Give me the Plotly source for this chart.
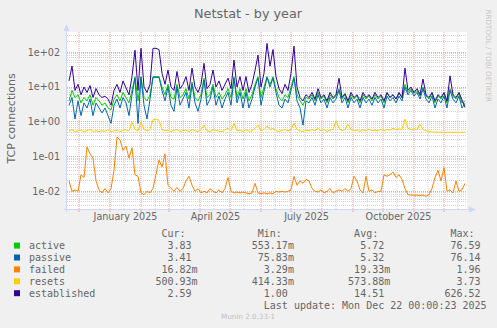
import pandas as pd
import plotly.graph_objects as go

# ---- data (one sample every 3 days, 2024-11-21 .. 2025-12-22) ----
dates = pd.date_range("2024-11-21", periods=133, freq="3D")

established = [
    15, 40, 8, 12, 6, 10, 7, 11, 5, 9, 6, 5, 5.5, 4.5, 3, 8, 12, 7, 15, 9,
    6, 20, 115, 8, 130, 10, 7, 12, 130, 130, 120, 25, 12, 31, 10, 8, 28, 9, 12, 20,
    8, 35, 10, 7, 12, 48, 9, 12, 31, 10, 15, 8, 12, 18, 9, 60, 10, 20, 8, 20,
    7, 12, 30, 83, 10, 25, 180, 40, 120, 20, 9, 6.5, 12, 8, 25, 150, 10, 5, 4, 6,
    5, 7, 4.5, 9, 5, 6, 4, 7, 5, 6, 18, 5, 6.5, 4, 7, 5, 6, 4, 7, 5,
    6, 4.5, 7, 5, 6, 4, 7, 5, 6, 4.5, 7, 5, 35, 8, 10, 7, 9, 6, 17, 6,
    5, 7, 4, 6, 5, 7, 4, 21, 6, 5, 7, 4, 2.59,
]

active = [
    4, 8, 5, 6, 3.5, 5, 4, 6, 3, 5, 4, 3, 3.5, 2.5, 2.2, 4.5, 6, 4, 7, 5,
    3.5, 8, 20, 4, 20, 5, 4, 6, 20, 20, 20, 10, 6, 12, 5, 4.5, 12, 5, 6, 9,
    4.5, 14, 5, 4, 6, 18, 5, 6, 12, 5, 7, 4.5, 6, 9, 5, 20, 5, 9, 4.5, 9,
    4, 6, 12, 20, 5, 10, 20, 12, 20, 9, 5, 4, 6, 5, 10, 20, 6, 4, 3, 5,
    4.5, 6, 4, 7, 4.5, 5.5, 3.5, 6, 4.5, 5.5, 9, 4.5, 6, 3.5, 6, 4.5, 5.5, 3.5, 6, 4.5,
    5.5, 4, 6, 4.5, 5.5, 3.5, 6.5, 5, 6, 4.5, 6.5, 5, 12, 7, 9, 6.5, 8, 5.5, 10, 5.5,
    4.5, 6.5, 3.5, 5.5, 4.5, 6.5, 3.5, 9, 5.5, 4.5, 6.5, 3.5, 3.83,
]

passive = [
    3, 5, 1.2, 4, 1.5, 3.5, 2.5, 4.5, 1.5, 3.5, 2.5, 1.8, 2.5, 1.4, 0.9, 3, 4.5, 2.5, 5, 3.5,
    1.5, 6, 18, 0.9, 19, 3, 1.2, 4.5, 19, 19, 19, 8, 4, 10, 3, 2, 10, 3, 4.5, 7,
    2.5, 12, 3.5, 2, 4.5, 16, 3, 4.5, 10, 3, 5.5, 2.5, 4.5, 7, 3, 18, 3.5, 7, 2.5, 7,
    2.5, 4.5, 10, 18, 3, 8, 19, 10, 18, 7, 3, 2.5, 4.5, 3.5, 8, 18, 4, 2.5, 0.8, 4,
    3.5, 5, 3, 6, 3.5, 4.5, 2.5, 5, 3.5, 4.5, 8, 3.5, 5, 2.5, 5, 3.5, 4.5, 2.5, 5, 3.5,
    4.5, 3, 5, 3.5, 4.5, 2.5, 5.5, 4, 5, 3.5, 5.5, 4, 10, 6, 8, 5.5, 7, 4.5, 9, 4.5,
    3.5, 5.5, 2.5, 4.5, 3.5, 5.5, 2.5, 8, 4.5, 3.5, 5.5, 2.5, 3.41,
]

failed = [
    0.02, 0.01, 0.011, 0.01, 0.03, 0.025, 0.19, 0.12, 0.09, 0.02,
    0.011, 0.009, 0.012, 0.009, 0.012, 0.04, 0.36, 0.3, 0.15, 0.2,
    0.09, 0.18, 0.03, 0.027, 0.009, 0.008, 0.01, 0.009, 0.012, 0.035,
    0.08, 0.05, 0.12, 0.015, 0.012, 0.01, 0.013, 0.01, 0.012, 0.02,
    0.027, 0.015, 0.01, 0.012, 0.009, 0.01, 0.009, 0.012, 0.01, 0.009,
    0.011, 0.009, 0.012, 0.025, 0.01, 0.009, 0.0095, 0.009, 0.0095, 0.009,
    0.0085, 0.009, 0.017, 0.009, 0.0085, 0.009, 0.0085, 0.009, 0.0085, 0.01,
    0.0095, 0.01, 0.0095, 0.01, 0.011, 0.027, 0.015, 0.02, 0.017, 0.022,
    0.02, 0.012, 0.01, 0.0095, 0.011, 0.009, 0.01, 0.012, 0.009, 0.01,
    0.011, 0.01, 0.012, 0.01, 0.012, 0.027, 0.02, 0.011, 0.009, 0.027,
    0.01, 0.011, 0.009, 0.01, 0.01, 0.03, 0.027, 0.03, 0.036, 0.025,
    0.03, 0.022, 0.012, 0.008, 0.0078, 0.0077, 0.0078, 0.0076, 0.0078, 0.0072,
    0.008, 0.012, 0.025, 0.04, 0.02, 0.048, 0.01, 0.011, 0.009, 0.02,
    0.01, 0.011, 0.01682,
]

resets = [
    0.55, 0.6, 0.52, 0.55, 0.58, 0.52, 0.55, 0.6, 0.53, 0.55,
    0.52, 0.55, 0.53, 0.6, 0.52, 0.55, 0.58, 0.52, 0.55, 0.6,
    0.55, 0.97, 0.6, 0.55, 0.97, 0.6, 0.55, 0.6, 1.15, 1.2,
    1.1, 0.6, 0.55, 0.58, 0.52, 0.55, 0.6, 0.53, 0.55, 0.58,
    0.52, 0.6, 0.55, 0.52, 0.58, 0.8, 0.55, 0.52, 0.6, 0.55,
    0.53, 0.52, 0.58, 0.65, 0.55, 0.9, 0.55, 0.58, 0.52, 0.6,
    0.53, 0.55, 0.65, 0.8, 0.55, 0.6, 0.75, 0.6, 0.65, 0.55,
    0.53, 0.55, 0.6, 0.55, 0.6, 0.9, 0.6, 0.55, 0.53, 0.58,
    0.55, 0.6, 0.55, 0.65, 0.55, 0.6, 0.53, 0.58, 0.6, 1.05,
    0.65, 0.55, 0.6, 0.85, 0.6, 0.55, 0.58, 0.53, 0.6, 0.55,
    0.62, 0.55, 0.58, 0.55, 0.6, 0.55, 0.6, 0.58, 0.65, 0.6,
    0.62, 0.6, 1.2, 0.65, 0.6, 0.62, 0.6, 0.85, 0.6, 0.55,
    0.52, 0.51, 0.51, 0.5, 0.51, 0.5, 0.5, 0.51, 0.5, 0.5,
    0.51, 0.5, 0.50093,
]

series_names = ["active", "passive", "failed", "resets", "established"]
series_colors = ["#00CC00", "#0066B3", "#FF8000", "#FFCC00", "#330099"]
series_values = [active, passive, failed, resets, established]

# legend statistics (Cur, Min, Avg, Max) with unit suffix
stat_cur = [("3.83", " "), ("3.41", " "), ("16.82", "m"), ("500.93", "m"), ("2.59", " ")]
stat_min = [("553.17", "m"), ("75.83", "m"), ("3.29", "m"), ("414.33", "m"), ("1.00", " ")]
stat_avg = [("5.72", " "), ("5.32", " "), ("19.33", "m"), ("573.88", "m"), ("14.51", " ")]
stat_max = [("76.59", " "), ("76.14", " "), ("1.96", " "), ("3.73", " "), ("626.52", " ")]

y_ticks = [0.01, 0.1, 1, 10, 100]
y_ticktext = ["1e-02", "1e-01", "1e+00", "1e+01", "1e+02"]
x_ticks = ["2025-01-16 12:00", "2025-04-16 12:00", "2025-07-16 12:00", "2025-10-16 12:00"]
x_ticktext = ["January 2025", "April 2025", "July 2025", "October 2025"]

# ---- geometry (pixels) ----
W, H = 497, 328
L, R, T, B = 67, 467, 32, 209
X_START, X_END = pd.Timestamp("2024-11-19"), pd.Timestamp("2025-12-24")
FONT = "#666666"


def px(x):
    return (x - L) / (R - L)


def py(y):
    return (B - y) / (B - T)


fig = go.Figure()
for name, color, vals in zip(series_names, series_colors, series_values):
    fig.add_trace(go.Scatter(x=dates, y=vals, mode="lines", name=name,
                             line=dict(color=color, width=1), hoverinfo="skip"))

minor_vals = [m * 10.0 ** e for e in range(-3, 3) for m in range(2, 10)]

fig.update_layout(
    width=W, height=H,
    margin=dict(l=L, r=W - R, t=T, b=H - B, pad=0),
    paper_bgcolor="#F0F0F0", plot_bgcolor="#FFFFFF",
    showlegend=False,
    font=dict(family="DejaVu Sans", color=FONT, size=9.6),
)
fig.update_xaxes(
    type="date", range=[X_START, X_END], tickmode="array",
    tickvals=x_ticks, ticktext=x_ticktext, showgrid=False, zeroline=False,
    showline=False, ticks="", tickfont=dict(size=9.6, color=FONT),
)
fig.update_yaxes(
    type="log", range=[-2.509, 2.584], tickmode="array",
    tickvals=y_ticks, ticktext=y_ticktext, showgrid=True,
    gridcolor="#F4A0A0", griddash="1px,1px", gridwidth=1,
    zeroline=False, showline=False, ticks="", ticklabelstandoff=6,
    tickfont=dict(size=9.6, color=FONT),
    minor=dict(tickmode="array", tickvals=minor_vals, showgrid=True,
               gridcolor="#D2D2D2", griddash="1px,1px", gridwidth=1, ticks=""),
)

shapes = []
# vertical grid: month starts (major) and mid-month (minor)
for d in pd.date_range("2024-12-15", "2025-12-15", freq="MS") + pd.Timedelta(days=14):
    shapes.append(dict(type="line", xref="x", yref="paper", x0=d, x1=d, y0=0, y1=1,
                       layer="below", line=dict(color="#D2D2D2", width=1, dash="1px,1px")))
for d in pd.date_range("2024-12-01", "2025-12-01", freq="MS"):
    shapes.append(dict(type="line", xref="x", yref="paper", x0=d, x1=d, y0=0, y1=1,
                       layer="below", line=dict(color="#F4A0A0", width=1, dash="1px,1px")))
    shapes.append(dict(type="line", xref="x", yref="paper", x0=d, x1=d,
                       y0=py(B), y1=py(B + 3), line=dict(color="#F4A0A0", width=1)))

AXIS = "#CFD6F8"
shapes.append(dict(type="line", xref="paper", yref="paper", x0=px(L - 0.5), x1=px(L - 0.5),
                   y0=py(B + 3), y1=py(T - 5), line=dict(color=AXIS, width=1)))
shapes.append(dict(type="line", xref="paper", yref="paper", x0=px(L - 3), x1=px(R + 5),
                   y0=py(B + 0.5), y1=py(B + 0.5), line=dict(color=AXIS, width=1)))
shapes.append(dict(type="path", xref="paper", yref="paper",
                   path=f"M {px(L - 0.5)},{py(T - 8)} L {px(L - 3.5)},{py(T - 1)} "
                        f"L {px(L + 2.5)},{py(T - 1)} Z",
                   fillcolor=AXIS, line=dict(color=AXIS, width=0)))
shapes.append(dict(type="path", xref="paper", yref="paper",
                   path=f"M {px(R + 9)},{py(B + 0.5)} L {px(R + 2)},{py(B - 2.5)} "
                        f"L {px(R + 2)},{py(B + 3.5)} Z",
                   fillcolor=AXIS, line=dict(color=AXIS, width=0)))
fig.update_layout(shapes=shapes)

ann = []
ann.append(dict(text="Netstat - by year", x=px(248), y=py(13), xref="paper", yref="paper",
                showarrow=False, xanchor="center", yanchor="middle",
                font=dict(size=12.8, color=FONT, family="DejaVu Sans")))
ann.append(dict(text="TCP connections", x=px(10.5), y=py(119), xref="paper", yref="paper",
                showarrow=False, textangle=-90, xanchor="center", yanchor="middle",
                font=dict(size=11, color=FONT, family="DejaVu Sans")))
ann.append(dict(text="RRDTOOL / TOBI OETIKER", x=px(488.5), y=py(56), xref="paper",
                yref="paper", showarrow=False, textangle=90, xanchor="center",
                yanchor="middle", font=dict(size=7.2, color="#C8C8C8", family="DejaVu Sans")))
ann.append(dict(text="Munin 2.0.33-1", x=px(248), y=py(316.5), xref="paper", yref="paper",
                showarrow=False, xanchor="center", yanchor="middle",
                font=dict(size=7.2, color="#C0C0C0", family="DejaVu Sans")))

# legend table, laid out on a monospace character grid
CH = 6.02
TX = 26.7


def place(buf, text, last_index):
    start = last_index - len(text) + 1
    for i, c in enumerate(text):
        buf[start + i] = c


def row_text(cells):
    buf = [" "] * 76
    for text, last in cells:
        place(buf, text, last)
    return "".join(buf).rstrip().replace(" ", "\u00a0")


def legend_line(text, y):
    return dict(text=text, x=px(TX), y=py(y), xref="paper", yref="paper",
                showarrow=False, xanchor="left", yanchor="middle",
                font=dict(size=10, color=FONT, family="DejaVu Sans Mono"))


header = row_text([("Cur:", 25), ("Min:", 41), ("Avg:", 57), ("Max:", 73)])
ann.append(legend_line(header, 233.5))
for i, name in enumerate(series_names):
    yy = 245.6 + 11.9 * i
    cells = [(name, len(name) - 1)]
    for stat, col in ((stat_cur, 26), (stat_min, 42), (stat_avg, 58), (stat_max, 74)):
        num, unit = stat[i]
        cells.append((num + unit, col + 1))
    ann.append(legend_line(row_text(cells), yy))
    shapes.append(dict(type="rect", xref="paper", yref="paper",
                       x0=px(14), x1=px(20), y0=py(yy - 3), y1=py(yy + 3),
                       fillcolor=series_colors[i], line=dict(width=0)))
ann.append(legend_line(row_text([("Last update: Mon Dec 22 00:00:23 2025", 75)]), 305.2))

fig.update_layout(annotations=ann, shapes=shapes)
fig.write_html("out.html")
